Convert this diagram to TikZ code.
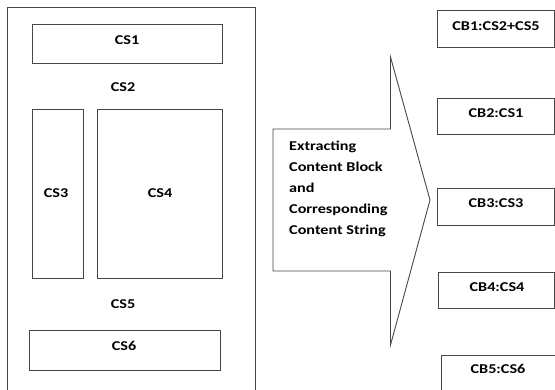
\documentclass[tikz,border=0pt]{standalone}
\usepackage{fontspec}
\setmainfont{Carlito}[FakeStretch=1.2]
\begin{document}
\begin{tikzpicture}[x=1pt,y=-1pt,
  box/.style={draw=black!72, line width=0.9pt, rectangle, inner sep=0pt},
  lbl/.style={font=\fontsize{13.5}{21}\selectfont\bfseries, inner sep=0pt, text=black}]
\useasboundingbox (0,0) rectangle (555,389);
\clip (0,0) rectangle (555,389);
% outer page
\node[box, minimum width=248, minimum height=400, anchor=north west] (page) at (7,7) {};
% content strings
\node[box, minimum width=190, minimum height=39] (cs1) at (127,43.5) {};
\node[lbl] (cs1t) at (127,40) {CS1};
\node[lbl] (cs2t) at (123,87) {CS2};
\node[box, minimum width=51, minimum height=169] (cs3) at (57.5,193.5) {};
\node[lbl] (cs3t) at (56,193) {CS3};
\node[box, minimum width=125, minimum height=169] (cs4) at (159.5,193.5) {};
\node[lbl] (cs4t) at (160,193) {CS4};
\node[lbl] (cs5t) at (123,304) {CS5};
\node[box, minimum width=191, minimum height=40] (cs6) at (124.5,350) {};
\node[lbl] (cs6t) at (124,346) {CS6};
% arrow
\coordinate (a1) at (273,129);
\coordinate (a2) at (390.5,129);
\coordinate (a3) at (390.5,57);
\coordinate (tip) at (430,200);
\coordinate (a5) at (390.5,345);
\coordinate (a6) at (390.5,271);
\coordinate (a7) at (273,271);
\draw[black!72, line width=0.9pt, line join=miter] (a1) -- (a2) -- (a3) -- (tip) -- (a5) -- (a6) -- (a7) -- cycle;
\node[lbl, align=left, anchor=west] (arrowt) at (289,188.5) {Extracting\\Content Block\\and\\Corresponding\\Content String};
% content blocks
\node[box, minimum width=117.5, minimum height=37] (cb1) at (495.75,28.5) {};
\node[lbl] (cb1t) at (496,26) {CB1:CS2+CS5};
\node[box, minimum width=117.5, minimum height=36] (cb2) at (495.75,116) {};
\node[lbl] (cb2t) at (496,113) {CB2:CS1};
\node[box, minimum width=117.5, minimum height=37] (cb3) at (495.75,206.5) {};
\node[lbl] (cb3t) at (496,203) {CB3:CS3};
\node[box, minimum width=116, minimum height=36] (cb4) at (496.5,290.5) {};
\node[lbl] (cb4t) at (497,287) {CB4:CS4};
\node[box, minimum width=113.5, minimum height=45, anchor=north west] (cb5) at (441,355) {};
\node[lbl] (cb5t) at (498,368.5) {CB5:CS6};
\end{tikzpicture}
\end{document}
